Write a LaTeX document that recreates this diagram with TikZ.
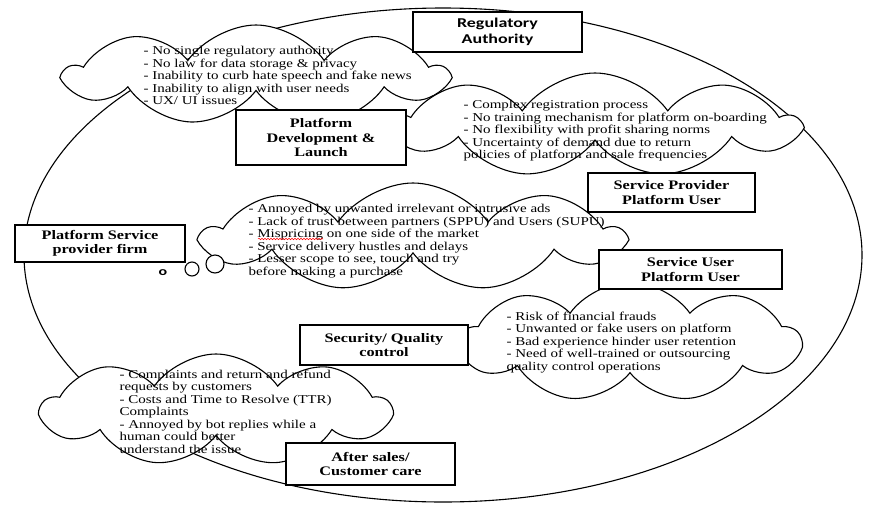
\documentclass[tikz,border=0pt]{standalone}
\usepackage{fontspec}
\setmainfont{Liberation Serif}[FakeStretch=1.25]
\newfontfamily\labelfont{Carlito}[FakeStretch=1.33]
\usetikzlibrary{shapes.symbols, shapes.geometric, positioning, decorations.pathmorphing}

\begin{document}
\begin{tikzpicture}[x=1pt,y=-1pt,line width=1.1pt,
    box/.style={draw,fill=white,align=center,inner sep=0pt,font=\fontsize{13}{14.5}\selectfont\bfseries},
    cloudy/.style={cloud,cloud puffs=9,cloud puff arc=110,cloud ignores aspect,draw,fill=white,inner sep=0pt},
    note/.style={align=left,inner sep=0pt,anchor=north west,font=\fontsize{12}{12.5}\selectfont}]

\useasboundingbox (0,0) rectangle (881,512);

% outer ring
\node[ellipse,draw,minimum width=838,minimum height=494,inner sep=0pt] (ring) at (443,255) {};

% clouds
\node[cloudy,minimum width=380,minimum height=100] (regcloud) at (256,75)  {};
\node[cloudy,minimum width=405,minimum height=104] (devcloud) at (595,125) {};
\node[cloudy,minimum width=418,minimum height=108] (spcloud)  at (413,237) {};
\node[cloudy,minimum width=340,minimum height=120] (sucloud)  at (630,342) {};
\node[cloudy,minimum width=348,minimum height=112] (ascloud)  at (216,410) {};

\node[circle,draw,fill=white,minimum size=14,inner sep=0pt] (bubA) at (192,269) {};
\node[circle,draw,fill=white,minimum size=18,inner sep=0pt] (bubB) at (215,264) {};

% cloud texts
\node[note] (regtext) at (143,46) {- No single regulatory authority\\- No law for data storage \& privacy\\- Inability to curb hate speech and fake news\\- Inability to align with user needs\\- UX/ UI issues};
\node[note] (devtext) at (463,100) {- Complex registration process\\- No training mechanism for platform on-boarding\\- No flexibility with profit sharing norms\\- Uncertainty of demand due to return\\policies of platform and sale frequencies};
\node[note] (sptext) at (248,204) {- Annoyed by unwanted irrelevant or intrusive ads\\- Lack of trust between partners (SPPU) and Users (SUPU)\\- Mispricing on one side of the market\\- Service delivery hustles and delays\\- Lesser scope to see, touch and try\\before making a purchase};
\node[note] (sutext) at (506,311) {- Risk of financial frauds\\- Unwanted or fake users on platform\\- Bad experience hinder user retention\\- Need of well-trained or outsourcing\\quality control operations};
\node[note] (astext) at (119,369) {- Complaints and return and refund\\requests by customers\\- Costs and Time to Resolve (TTR)\\Complaints\\- Annoyed by bot replies while a\\human could better\\understand the issue};

% spell-check squiggle
\draw[red,line width=0.5pt,decorate,decoration={snake,amplitude=0.8pt,segment length=3pt}] (258,239) -- (323,239);

% boxes
\node[box,minimum width=169,minimum height=40,font=\fontsize{13.5}{16}\selectfont\labelfont\bfseries] (reg) at (497.5,32) {Regulatory\\Authority};
\node[box,minimum width=170,minimum height=55] (dev) at (321,137.5) {Platform\\Development \&\\Launch};
\node[box,minimum width=167,minimum height=39] (spu) at (671.5,192.5) {Service Provider\\Platform User};
\node[box,minimum width=183,minimum height=39] (suu) at (690.5,269.5) {Service User\\Platform User};
\node[box,minimum width=170,minimum height=37] (psp) at (100,243.5) {Platform Service\\provider firm};
\node[box,minimum width=168,minimum height=40] (sqc) at (384,345) {Security/ Quality\\control};
\node[box,minimum width=169,minimum height=42] (asc) at (370.5,464) {After sales/\\Customer care};

\node[inner sep=0pt,font=\fontsize{12}{14}\selectfont\labelfont\bfseries] (mark) at (163,273) {o};
\end{tikzpicture}
\end{document}
